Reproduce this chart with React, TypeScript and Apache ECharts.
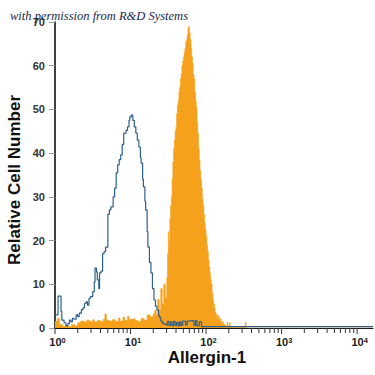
import React, { useEffect, useRef } from "react";
import * as echarts from "echarts";

// x values are log10 of fluorescence intensity (decades), y values are cell counts
const headerNote = "with permission from R&D Systems";
const xAxisTitle = "Allergin-1";
const yAxisTitle = "Relative Cell Number";
const decadeExponents = [0, 1, 2, 3, 4];
const minorMultipliers = [2, 3, 4, 5, 6, 7, 8, 9];

const isotypeControl: [number, number][] = [
  [0.0, 3.0], [0.04, 7.3], [0.08, 3.8], [0.09, 1.8], [0.12, 1.2], [0.145, 0.5],
  [0.17, 1.0], [0.19, 1.8], [0.21, 1.4], [0.23, 2.2], [0.25, 2.0], [0.28, 3.0],
  [0.3, 2.6], [0.32, 3.4], [0.35, 4.2], [0.37, 4.6], [0.39, 5.6], [0.41, 6.0],
  [0.43, 5.2], [0.45, 6.8], [0.47, 7.2], [0.5, 8.3], [0.52, 10.5], [0.53, 13.7],
  [0.55, 12.8], [0.56, 11.0], [0.58, 9.0], [0.59, 12.6], [0.61, 13.0], [0.63, 17.0],
  [0.65, 17.5], [0.67, 18.5], [0.7, 26.0], [0.72, 27.0], [0.74, 27.7], [0.77, 30.0],
  [0.79, 32.0], [0.81, 35.5], [0.83, 37.3], [0.85, 38.5], [0.87, 39.6], [0.89, 42.0],
  [0.91, 44.6], [0.94, 45.2], [0.96, 46.0], [0.98, 47.5], [0.99, 48.3], [1.01, 48.7],
  [1.03, 47.5], [1.05, 46.0], [1.07, 44.6], [1.09, 43.0], [1.11, 41.4], [1.13, 39.0],
  [1.14, 37.7], [1.16, 34.0], [1.17, 32.3], [1.19, 29.0], [1.2, 27.0], [1.22, 22.0],
  [1.23, 18.5], [1.25, 15.0], [1.27, 12.6], [1.29, 9.0], [1.31, 6.4], [1.33, 5.0],
  [1.35, 4.1], [1.37, 3.0], [1.38, 2.5], [1.4, 1.6], [1.42, 1.1], [1.44, 0.9],
  [1.47, 0.7], [1.49, 1.5], [1.51, 0.6], [1.53, 1.4], [1.55, 0.5], [1.57, 1.5],
  [1.59, 0.6], [1.61, 1.3], [1.63, 0.5], [1.65, 1.4], [1.67, 0.6], [1.69, 1.6],
  [1.71, 1.5], [1.73, 0.7], [1.75, 1.6], [1.78, 1.7], [1.82, 1.6], [1.84, 0.6],
  [1.86, 1.7], [1.88, 0.5], [1.91, 1.4], [1.94, 0.3], [2.05, 0.3], [4.21, 0.3],
];

const allerginStained: [number, number][] = [
  [0.0, 1.5], [0.03, 2.2], [0.06, 0.8], [0.1, 0.4], [0.14, 0.6], [0.18, 0.3],
  [0.22, 0.8], [0.26, 0.5], [0.3, 1.2], [0.34, 1.6], [0.38, 1.4], [0.42, 1.8],
  [0.46, 1.5], [0.5, 1.9], [0.52, 1.4], [0.56, 1.7], [0.6, 1.5], [0.64, 2.0],
  [0.66, 3.2], [0.68, 1.8], [0.72, 1.6], [0.76, 1.9], [0.8, 1.5], [0.84, 2.3],
  [0.86, 1.6], [0.9, 2.5], [0.92, 1.8], [0.96, 2.7], [0.98, 2.0], [1.02, 2.1],
  [1.06, 1.7], [1.1, 1.5], [1.14, 2.2], [1.18, 1.8], [1.22, 3.0], [1.26, 2.6],
  [1.3, 3.2], [1.32, 4.0], [1.34, 3.0], [1.36, 6.5], [1.38, 4.2], [1.4, 9.0],
  [1.42, 5.5], [1.44, 10.0], [1.46, 7.0], [1.48, 11.5], [1.49, 17], [1.5, 22],
  [1.51, 20], [1.52, 25], [1.53, 28], [1.54, 30], [1.55, 34], [1.56, 38],
  [1.57, 41], [1.58, 43], [1.59, 45], [1.6, 46], [1.61, 49], [1.62, 51],
  [1.63, 52], [1.64, 54], [1.65, 55], [1.66, 57], [1.67, 58], [1.68, 60],
  [1.69, 61], [1.7, 62], [1.71, 63], [1.72, 64], [1.73, 65.5], [1.74, 66],
  [1.75, 67], [1.76, 68.5], [1.77, 69], [1.78, 67.5], [1.79, 66], [1.8, 64],
  [1.81, 62], [1.82, 60.5], [1.83, 58], [1.84, 57], [1.85, 54], [1.86, 52],
  [1.87, 50.5], [1.88, 47], [1.89, 44.5], [1.9, 41], [1.91, 38.5], [1.92, 36],
  [1.93, 34], [1.94, 32], [1.95, 29.5], [1.96, 28], [1.97, 26], [1.98, 24],
  [1.99, 22.5], [2.0, 21], [2.01, 19], [2.02, 17.5], [2.03, 15.5], [2.04, 14],
  [2.05, 12.5], [2.06, 11], [2.07, 10], [2.08, 8], [2.09, 6.5], [2.1, 5.5],
  [2.11, 4.5], [2.12, 3.5], [2.13, 3.2], [2.14, 2.5], [2.15, 3.0], [2.16, 2.2],
  [2.17, 2.6], [2.18, 1.6], [2.19, 2.0], [2.2, 1.2], [2.22, 1.5], [2.23, 0.8],
  [2.25, 0.5], [2.28, 1.3], [2.29, 0.4], [2.31, 1.2], [2.32, 0.2], [2.36, 0.1],
  [2.52, 1.3], [2.53, 0], [4.21, 0],
];

export default function App() {
  const ref = useRef<HTMLDivElement>(null);

  useEffect(() => {
    if (!ref.current) return;
    const chart = echarts.init(ref.current, null, { renderer: "svg" });

    const tickPositions: number[] = [];
    decadeExponents.forEach((n) => {
      tickPositions.push(n);
      if (n < 4) minorMultipliers.forEach((k) => tickPositions.push(n + Math.log10(k)));
    });

    const labelFont = "Liberation Sans, Arial, sans-serif";

    chart.setOption({
      animation: false,
      backgroundColor: "#ffffff",
      grid: { left: 55, right: 2, top: 22, bottom: 47, containLabel: false },
      xAxis: {
        type: "value",
        min: 0,
        max: 4.21,
        interval: 1,
        axisLine: { show: true, lineStyle: { color: "#111", width: 1.2 } },
        axisTick: { show: false },
        splitLine: { show: false },
        axisLabel: {
          margin: 8,
          showMaxLabel: false,
          formatter: (v: number) =>
            decadeExponents.includes(v) ? `{b|10}{s|${v}}` : "",
          rich: {
            b: { fontSize: 11, fontWeight: "bold", color: "#222", fontFamily: labelFont, padding: [0, 0, 0, 5], lineHeight: 12 },
            s: { fontSize: 7.5, fontWeight: "bold", color: "#222", fontFamily: labelFont, verticalAlign: "top" },
          },
        },
      },
      yAxis: {
        type: "value",
        min: 0,
        max: 70,
        interval: 10,
        axisLine: { show: true, lineStyle: { color: "#000", width: 1.5 } },
        axisTick: { show: true, length: 6, lineStyle: { color: "#999" } },
        splitLine: { show: false },
        axisLabel: {
          margin: 10,
          fontSize: 11,
          fontWeight: "bold",
          color: "#333",
          fontFamily: labelFont,
        },
      },
      series: [
        {
          name: "Allergin-1",
          type: "line",
          step: "end",
          data: allerginStained,
          symbol: "none",
          lineStyle: { width: 0.6, color: "#f6a11c" },
          areaStyle: { color: "#f6a11c", opacity: 1 },
          z: 2,
        },
        {
          name: "Isotype control",
          type: "line",
          step: "end",
          data: isotypeControl,
          symbol: "none",
          lineStyle: { width: 1.2, color: "#2c5f8c" },
          z: 3,
        },
        {
          type: "custom",
          clip: false,
          silent: true,
          data: tickPositions.map((t) => [t, 0]),
          renderItem: (params: any, api: any) => {
            const v = api.value(0);
            const p = api.coord([v, 0]);
            const len = Math.abs(v - Math.round(v)) < 1e-9 ? 6 : 5;
            return {
              type: "line",
              shape: { x1: p[0], y1: p[1], x2: p[0], y2: p[1] + len },
              style: { stroke: "#333", lineWidth: 1 },
            };
          },
          z: 1,
        },
      ],
      graphic: [
        {
          type: "text",
          left: 10,
          top: 9,
          style: {
            text: headerNote,
            font: "italic 12.5px 'Liberation Serif', 'DejaVu Serif', serif",
            fill: "#1b1f4a",
          },
          z: 10,
        },
        {
          type: "text",
          x: 14,
          y: 180,
          rotation: Math.PI / 2,
          style: {
            text: yAxisTitle,
            font: "bold 17px 'Liberation Sans', Arial, sans-serif",
            fill: "#111",
            textAlign: "center",
            textVerticalAlign: "middle",
          },
        },
        {
          type: "text",
          x: 207,
          y: 357,
          style: {
            text: xAxisTitle,
            font: "bold 17px 'Liberation Sans', Arial, sans-serif",
            fill: "#111",
            textAlign: "center",
            textVerticalAlign: "middle",
          },
        },
      ],
    });

    return () => chart.dispose();
  }, []);

  return (
    <div
      ref={ref}
      style={{ position: "fixed", left: 0, top: 0, width: 375, height: 375, background: "#fff" }}
    />
  );
}
